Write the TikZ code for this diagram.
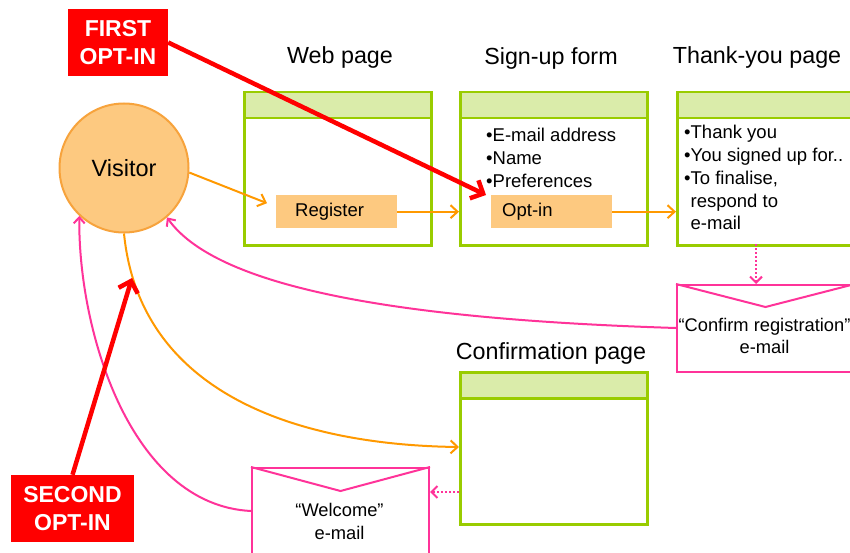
\documentclass[tikz,border=0pt]{standalone}
\usepackage{fontspec}
\setmainfont{Liberation Sans}
\usetikzlibrary{arrows.meta,calc}
\definecolor{pgreen}{RGB}{153,204,0}
\definecolor{hgreen}{RGB}{218,236,170}
\definecolor{ofill}{RGB}{253,201,128}
\definecolor{oborder}{RGB}{247,163,60}
\definecolor{oline}{RGB}{255,153,0}
\definecolor{pinkc}{RGB}{255,51,153}
\definecolor{redc}{RGB}{255,0,0}
\begin{document}
\begin{tikzpicture}[x=1pt,y=-1pt,
  pagebody/.style={draw=pgreen, line width=2.5pt, fill=white, minimum width=187pt, minimum height=127pt, anchor=north west, inner sep=0pt},
  pagehead/.style={draw=pgreen, line width=2.5pt, fill=hgreen, minimum width=187pt, minimum height=26pt, anchor=north west, inner sep=0pt},
  titletext/.style={font=\fontsize{23.3}{27}\selectfont, text=black},
  bodytext/.style={font=\fontsize{18.5}{22.8}\selectfont, text=black, align=left, inner sep=0pt, anchor=north west},
  btn/.style={fill=ofill, minimum width=121pt, minimum height=33pt, anchor=north west, inner sep=0pt, font=\fontsize{18.5}{22}\selectfont, text=black},
  envbox/.style={draw=pinkc, line width=2pt, fill=white, minimum width=177pt, anchor=north west, inner sep=0pt},
  envtext/.style={font=\fontsize{18.3}{22.5}\selectfont, text=black, align=center},
  redlab/.style={fill=redc, text=white, font=\fontsize{23}{28}\selectfont\bfseries, align=center, minimum height=67pt, inner sep=0pt},
  oarrow/.style={draw=oline, line width=2pt, -{Straight Barb[length=7pt,width=13pt]}},
  parrow/.style={draw=pinkc, line width=2pt, -{Straight Barb[length=6pt,width=11pt]}},
  pdot/.style={draw=pinkc, line width=2pt, dotted, -{Straight Barb[length=6pt,width=12pt]}},
  rarrow/.style={draw=redc, line width=4.5pt, -{Straight Barb[length=10pt,width=20pt]}}
]
\clip (0,0) rectangle (850,553);
\fill[white] (0,0) rectangle (850,553);

% titles
\node[titletext] (webt) at (340,57) {Web page};
\node[titletext] (signt) at (551,58) {Sign-up form};
\node[titletext] (thankt) at (757,57) {Thank-you page};
\node[titletext] (conft) at (551,353) {Confirmation page};

% pages
\node[pagebody] (web) at (243,117) {};
\node[pagehead] (webh) at (243,91) {};
\node[pagebody] (sign) at (459,117) {};
\node[pagehead] (signh) at (459,91) {};
\node[pagebody] (thank) at (676,117) {};
\node[pagehead] (thankh) at (676,91) {};
\node[pagebody] (conf) at (459,396) {};
\node[pagehead] (confh) at (459,371) {};

% page texts
\node[bodytext] (signtxt) at (486,128) {•E-mail address\\•Name\\•Preferences};
\node[bodytext] (thanktxt) at (684,125) {•Thank you\\•You signed up for..\\•To finalise,\\\phantom{•}respond to\\\phantom{•}e-mail};

% buttons
\node[btn] (register) at (276,195) {\makebox[121pt][l]{\hspace{19pt}Register}};
\node[btn] (optin) at (491,195) {\makebox[121pt][l]{\hspace{11pt}Opt-in}};

% visitor
\node[circle, draw=oborder, line width=2pt, fill=ofill, minimum size=129pt, inner sep=0pt,
      font=\fontsize{23.5}{27}\selectfont] (visitor) at (124,168) {Visitor};

% envelopes
\node[envbox, minimum height=87pt] (confenv) at (676,284) {};
\draw[draw=pinkc, line width=2pt, line join=miter] (confenv.north west) -- ($(confenv.north)+(0,23)$) -- (confenv.north east);
\node[envtext] (confenvt) at (764.5,336) {“Confirm registration”\\e-mail};

\node[envbox, minimum height=100pt] (welenv) at (251,467) {};
\draw[draw=pinkc, line width=2pt, line join=miter] (welenv.north west) -- ($(welenv.north)+(0,24)$) -- (welenv.north east);
\node[envtext] (welenvt) at (339.5,521.5) {“Welcome”\\e-mail};

% orange connectors
\coordinate (regin) at ($(register.west)+(-9,-8.5)$);
\draw[oarrow] (visitor.-4) -- (regin);
\draw[oarrow] (register.east) -- (register.east -| sign.west);
\draw[oarrow] (optin.east) -- (optin.east -| thank.west);
\coordinate (confin) at (459,447);
\draw[oarrow] (visitor.south) .. controls (140,395) and (300,445) .. (confin);

% pink dotted
\coordinate (thankout) at (756,244);
\draw[pdot] (thankout) -- (thankout |- confenv.north);
\coordinate (confout) at (459,492);
\draw[pdot] (confout) -- (confout -| welenv.east);

% pink curves back to visitor
\draw[parrow] (confenv.west |- 0,328) .. controls (420,320) and (220,292) .. (visitor.-49);
\draw[parrow] (welenv.west |- 0,511) .. controls (130,505) and (78,330) .. (visitor.-133);

% red labels and arrows
\node[redlab, minimum width=100pt] (first) at (118,42.5) {FIRST\\OPT-IN};
\node[redlab, minimum width=123pt] (second) at (72.5,508.5) {SECOND\\OPT-IN};
\coordinate (firsttip) at ($(optin.north west)+(-5,0)$);
\draw[rarrow] (first.east) -- (firsttip);
\coordinate (secondtip) at (132,278);
\draw[rarrow] (second.north) -- (secondtip);
\end{tikzpicture}
\end{document}
